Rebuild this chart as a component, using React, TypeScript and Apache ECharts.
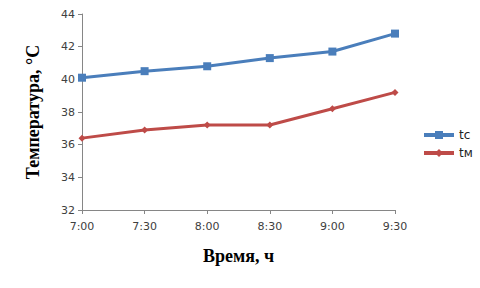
import React, { useEffect, useRef } from "react";
import * as echarts from "echarts";

const categories = ["7:00", "7:30", "8:00", "8:30", "9:00", "9:30"];
const tcValues = [40.1, 40.5, 40.8, 41.3, 41.7, 42.8];
const tmValues = [36.4, 36.9, 37.2, 37.2, 38.2, 39.2];
const seriesNames = ["tc", "tм"];
const yAxisTitle = "Температура, °C";
const xAxisTitle = "Время, ч";

export default function App() {
  const ref = useRef<HTMLDivElement>(null);
  useEffect(() => {
    if (!ref.current) return;
    const chart = echarts.init(ref.current, null, { renderer: "svg" });
    const labelStyle = { color: "#404040", fontFamily: "DejaVu Sans", fontSize: 11 };
    chart.setOption({
      animation: false,
      backgroundColor: "#ffffff",
      grid: { left: 82, right: 85, top: 14, bottom: 78 },
      legend: {
        orient: "vertical",
        left: 422,
        top: 129,
        padding: 0,
        itemWidth: 30,
        itemHeight: 10,
        itemGap: 6,
        lineStyle: { width: 4 },
        textStyle: { ...labelStyle, fontSize: 12, color: "#222" },
        data: seriesNames,
      },
      xAxis: {
        type: "category",
        data: categories,
        boundaryGap: false,
        axisLine: { lineStyle: { color: "#868686", width: 1 } },
        axisTick: { show: true, length: 4, alignWithLabel: true, lineStyle: { color: "#868686" } },
        axisLabel: { ...labelStyle, margin: 11 },
        splitLine: { show: false },
        name: xAxisTitle,
        nameLocation: "middle",
        nameGap: 37,
        nameTextStyle: { fontFamily: "Liberation Serif", fontWeight: "bold", fontSize: 18, color: "#000" },
      },
      yAxis: {
        type: "value",
        min: 32,
        max: 44,
        interval: 2,
        axisLine: { show: true, lineStyle: { color: "#868686", width: 1 } },
        axisTick: { show: true, length: 4, lineStyle: { color: "#868686" } },
        axisLabel: { ...labelStyle, margin: 7 },
        splitLine: { show: false },
        name: yAxisTitle,
        nameLocation: "middle",
        nameGap: 40,
        nameRotate: 90,
        nameTextStyle: { fontFamily: "Liberation Serif", fontWeight: "bold", fontSize: 18, color: "#000" },
      },
      series: [
        {
          name: seriesNames[0],
          type: "line",
          data: tcValues,
          symbol: "rect",
          symbolSize: 8,
          lineStyle: { color: "#4a7ebb", width: 3 },
          itemStyle: { color: "#4a7ebb" },
        },
        {
          name: seriesNames[1],
          type: "line",
          data: tmValues,
          symbol: "diamond",
          symbolSize: 7,
          lineStyle: { color: "#be4b48", width: 3 },
          itemStyle: { color: "#be4b48" },
        },
      ],
    });
    return () => chart.dispose();
  }, []);
  return <div ref={ref} style={{ width: 480, height: 288, position: "absolute", left: 0, top: 0 }} />;
}
